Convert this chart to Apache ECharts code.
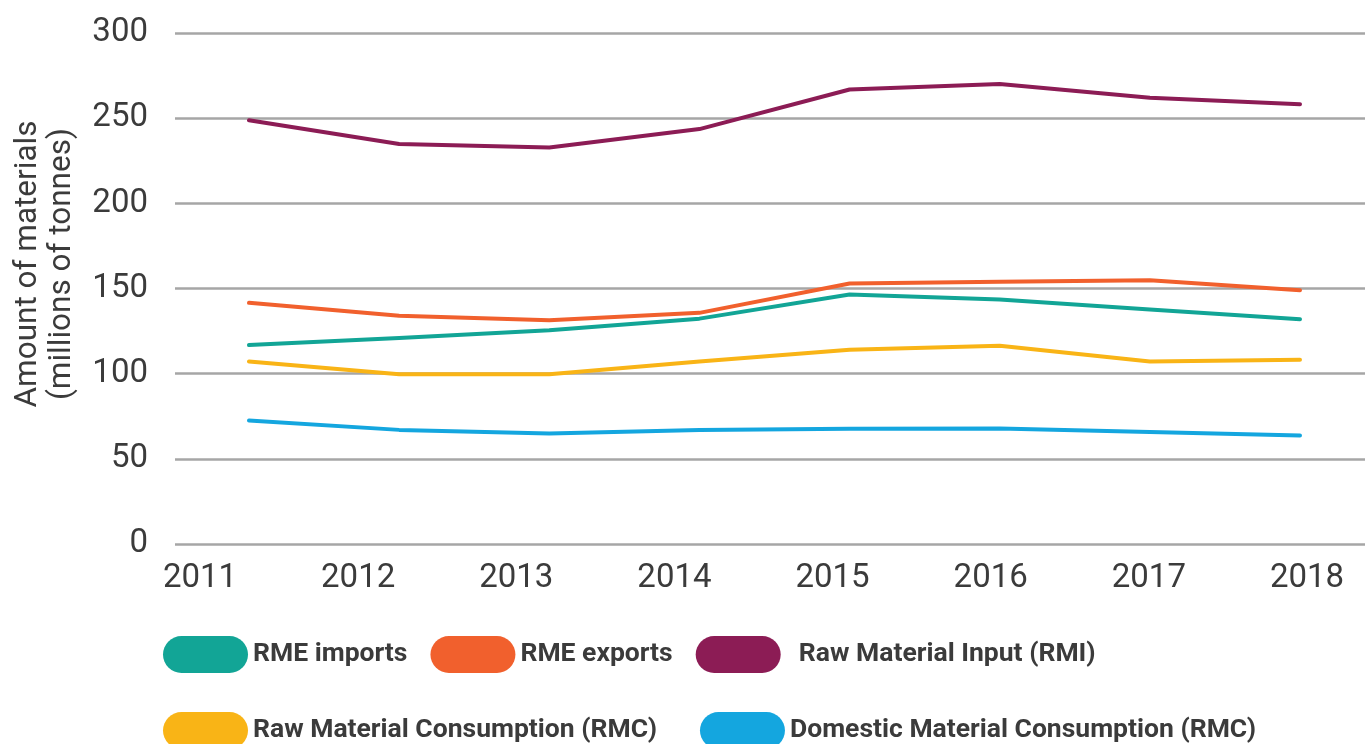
<!DOCTYPE html>
<html>
<head>
<meta charset="utf-8">
<script src="https://cdn.jsdelivr.net/npm/echarts@6/dist/echarts.min.js"></script>
<style>
  html, body { margin: 0; padding: 0; background: #fff; }
  #chart { width: 1365px; height: 744px; }
</style>
</head>
<body>
<div id="chart"></div>
<script>
'use strict';

var years = ['2011', '2012', '2013', '2014', '2015', '2016', '2017', '2018'];
var rmeImports = [116.8, 121, 125.5, 132.3, 146.5, 143.6, 137.7, 132];
var rmeExports = [141.6, 134, 131.4, 135.7, 152.9, 153.9, 154.9, 149];
var rmi = [248.8, 234.8, 232.8, 243.6, 266.8, 270, 262, 258.2];
var rmc = [107.2, 99.6, 99.6, 107.2, 114, 116.4, 107.2, 108.2];
var dmc = [72.5, 67, 64.8, 67, 67.6, 67.8, 65.8, 63.7];

var seriesNames = [
  'RME imports',
  'RME exports',
  'Raw Material Input (RMI)',
  'Raw Material Consumption (RMC)',
  'Domestic Material Consumption (RMC)'
];
var seriesData = [rmeImports, rmeExports, rmi, rmc, dmc];
var colors = ['#12a596', '#f1602d', '#8c1c55', '#f9b416', '#14a6df'];

var textColor = '#3b3b3b';
var pill = 'path://M18.5,0 H66.5 A18.5,18.5 0 0 1 66.5,37 H18.5 A18.5,18.5 0 0 1 18.5,0 Z';

var chart = echarts.init(document.getElementById('chart'));

var series = seriesNames.map(function(name, i){
  return {
    name: name,
    type: 'line',
    xAxisIndex: 2,
    yAxisIndex: 2,
    data: seriesData[i],
    showSymbol: false,
    symbol: 'none',
    color: colors[i],
    itemStyle: { color: colors[i] },
    lineStyle: { color: colors[i], width: 4, cap: 'round', join: 'round' }
  };
});

var legendText = {
  color: textColor,
  fontFamily: 'Roboto',
  fontWeight: 'bold',
  fontSize: 26.5
};

var option = {
  backgroundColor: '#fff',
  animation: false,
  grid: [
    { left: 175, right: 0, top: 33, height: 511 },
    { left: 200, right: 58, top: 33, height: 511 },
    { left: 249, right: 65, top: 33, height: 511 }
  ],
  xAxis: [
    { gridIndex: 0, type: 'value', show: false },
    {
      gridIndex: 1,
      type: 'category',
      data: years,
      boundaryGap: false,
      axisLine: { show: false },
      axisTick: { show: false },
      splitLine: { show: false },
      axisLabel: {
        interval: 0,
        margin: 18,
        color: textColor,
        fontFamily: 'Roboto',
        fontSize: 33
      }
    },
    { gridIndex: 2, type: 'category', data: years, boundaryGap: false, show: false }
  ],
  yAxis: [
    {
      gridIndex: 0,
      type: 'value',
      min: 0,
      max: 300,
      interval: 50,
      axisLine: { show: false },
      axisTick: { show: false },
      splitLine: { lineStyle: { color: '#a6a6a6', width: 2.5 } },
      axisLabel: {
        margin: 27,
        color: textColor,
        fontFamily: 'Roboto',
        fontSize: 33
      }
    },
    { gridIndex: 1, type: 'value', min: 0, max: 300, show: false },
    { gridIndex: 2, type: 'value', min: 0, max: 300, show: false }
  ],
  legend: [
    {
      data: seriesNames.slice(0, 3),
      left: 163,
      top: 636,
      padding: 0,
      icon: pill,
      itemWidth: 85,
      itemHeight: 37,
      itemGap: 23,
      textStyle: legendText,
      formatter: function(name){
        return name === 'Raw Material Input (RMI)' ? '  ' + name : name;
      }
    },
    {
      data: seriesNames.slice(3),
      left: 163,
      top: 712,
      padding: 0,
      icon: pill,
      itemWidth: 85,
      itemHeight: 37,
      itemGap: 43,
      textStyle: legendText
    }
  ],
  graphic: [
    {
      type: 'text',
      x: 45,
      y: 264,
      rotation: Math.PI / 2,
      style: {
        text: 'Amount of materials\n(millions of tonnes)',
        fill: textColor,
        font: '31.5px Roboto',
        lineHeight: 34,
        align: 'center',
        verticalAlign: 'middle'
      }
    }
  ],
  series: series
};

chart.setOption(option);
</script>
</body>
</html>
